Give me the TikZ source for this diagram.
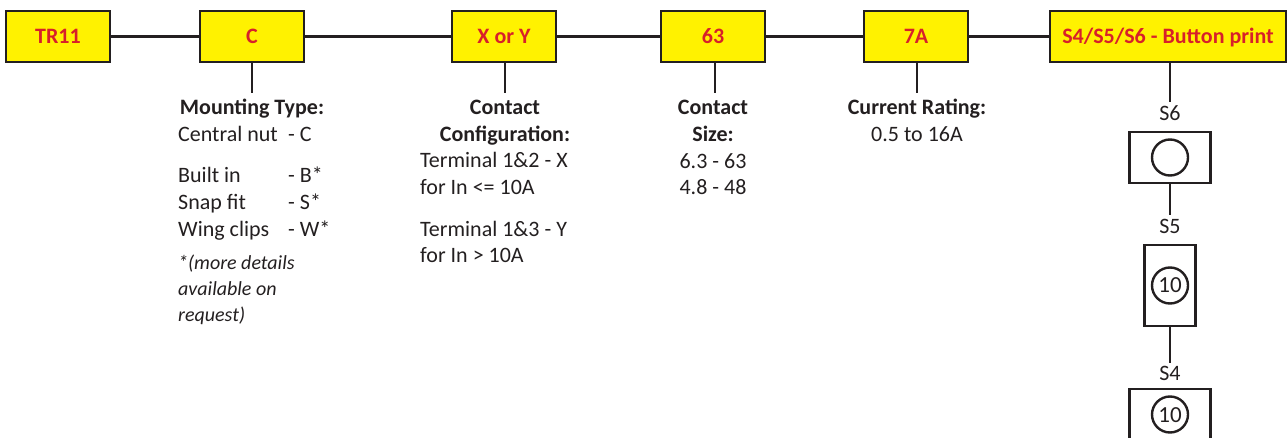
\documentclass[tikz,border=0pt]{standalone}
\usepackage{fontspec}
\setmainfont{Carlito}
\usetikzlibrary{positioning}

\definecolor{codeyellow}{HTML}{FFF200}
\definecolor{codered}{HTML}{D7202A}
\definecolor{inkblack}{HTML}{231F20}

\begin{document}
\begin{tikzpicture}[x=1pt, y=-1pt, line width=2.4pt, color=inkblack,
	code/.style={rectangle, draw, fill=codeyellow, minimum width=104pt, minimum height=51pt, inner sep=0pt, text=codered, font=\fontsize{22}{27}\selectfont\bfseries, text height=14pt, text depth=0pt},
	head/.style={anchor=base, inner sep=0pt, font=\fontsize{22}{27}\selectfont\bfseries},
	txt/.style={anchor=base west, inner sep=0pt, font=\fontsize{22}{27}\selectfont},
	mid/.style={anchor=base, inner sep=0pt, font=\fontsize{22}{27}\selectfont},
	note/.style={anchor=base west, inner sep=0pt, font=\fontsize{20}{27}\selectfont\itshape},
	btn/.style={rectangle, draw, inner sep=0pt},
	dot/.style={circle, draw, minimum size=36pt, inner sep=0pt, font=\fontsize{23}{27}\selectfont, text height=15pt, text depth=0pt},
	slabel/.style={inner sep=0pt, font=\fontsize{22}{27}\selectfont, text depth=0pt}]
	\useasboundingbox (0,0) rectangle (1288,438);

	% code boxes
	\node[code] (tr) at (58,36.5) {TR11};
	\node[code] (mount) at (252,36.5) {C};
	\node[code] (config) at (504,36.5) {X or Y};
	\node[code] (size) at (713,36.5) {63};
	\node[code] (rating) at (916,36.5) {7A};
	\node[code, minimum width=236pt] (print) at (1168,36.5) {S4/S5/S6 - Button print};

	\draw (tr) -- (mount);
	\draw (mount) -- (config);
	\draw (config) -- (size);
	\draw (size) -- (rating);
	\draw (rating) -- (print);

	% stubs
	\coordinate (mountend) at (252,93);
	\coordinate (configend) at (505,93);
	\coordinate (sizeend) at (715,93);
	\coordinate (ratingend) at (917,93);
	\coordinate (printend) at (1170,102);
	\draw (mount.south -| mountend) -- (mountend);
	\draw (config.south -| configend) -- (configend);
	\draw (size.south -| sizeend) -- (sizeend);
	\draw (rating.south -| ratingend) -- (ratingend);
	\draw (print.south -| printend) -- (printend);

	% mounting type
	\node[head] (mount_head) at (252,115) {Mounting Type:};
	\node[txt] (mount_c) at (177,142) {Central nut};
	\node[txt] (mount_c2) at (287,142) {- C};
	\node[txt] (mount_b) at (177,183) {Built in};
	\node[txt] (mount_b2) at (287,183) {- B*};
	\node[txt] (mount_s) at (177,210) {Snap fit};
	\node[txt] (mount_s2) at (287,210) {- S*};
	\node[txt] (mount_w) at (177,237) {Wing clips};
	\node[txt] (mount_w2) at (287,237) {- W*};
	\node[note] (mount_n1) at (177,270) {*(more details};
	\node[note] (mount_n2) at (177,296) {available on};
	\node[note] (mount_n3) at (177,322) {request)};

	% contact configuration
	\node[head] (config_head) at (505,115) {Contact};
	\node[head] (config_head2) at (505,142) {Configuration:};
	\node[txt] (config_x) at (419,168) {Terminal 1\&2 - X};
	\node[txt] (config_x2) at (419,195) {for In <= 10A};
	\node[txt] (config_y) at (419,237) {Terminal 1\&3 - Y};
	\node[txt] (config_y2) at (419,263) {for In > 10A};

	% contact size
	\node[head] (size_head) at (713,115) {Contact};
	\node[head] (size_head2) at (713,142) {Size:};
	\node[mid] (size_a) at (713,169) {6.3 - 63};
	\node[mid] (size_b) at (713,195) {4.8 - 48};

	% current rating
	\node[head] (rating_head) at (917,115) {Current Rating:};
	\node[mid] (rating_a) at (917,142) {0.5 to 16A};

	% button prints
	\node[btn, minimum width=81pt, minimum height=51pt] (s6) at (1170,157.5) {};
	\node[dot] (s6_dot) at (s6.center) {};
	\node[slabel, above=9pt of s6] (s6_label) {S6};
	\coordinate (s6end) at (1170,215);
	\draw (s6) -- (s6end);

	\node[btn, minimum width=51pt, minimum height=81pt] (s5) at (1170,285.5) {};
	\node[dot] (s5_dot) at (s5.center) {10};
	\node[slabel, above=9pt of s5] (s5_label) {S5};
	\coordinate (s5end) at (1170,363);
	\draw (s5) -- (s5end);

	\node[btn, minimum width=81pt, minimum height=51pt] (s4) at (1170,414.5) {};
	\node[dot] (s4_dot) at (s4.center) {10};
	\node[slabel, above=6pt of s4] (s4_label) {S4};
\end{tikzpicture}
\end{document}
